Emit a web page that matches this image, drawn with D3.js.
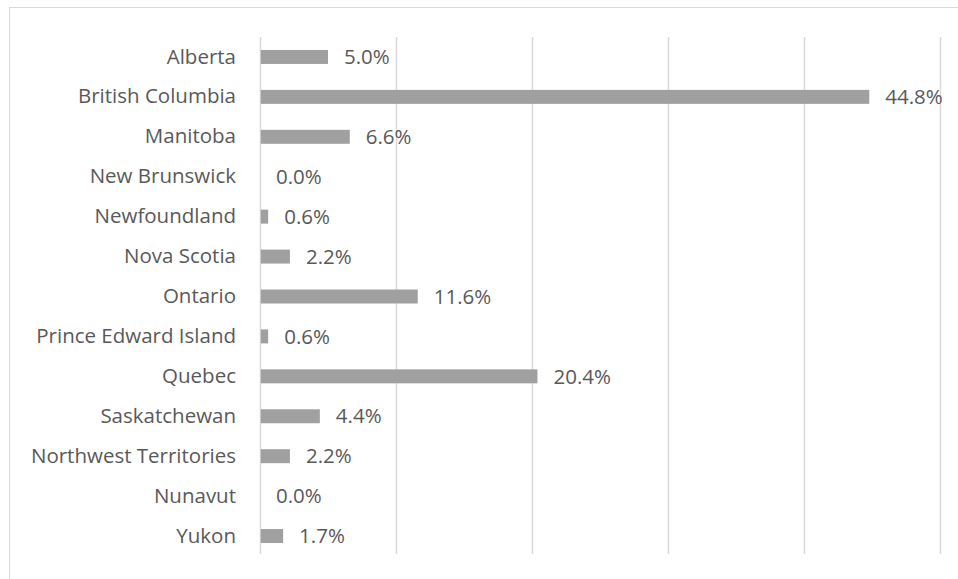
<!DOCTYPE html>
<html>
<head>
<meta charset="utf-8">
<script src="https://cdn.jsdelivr.net/npm/d3@7"></script>
<style>
  html, body { margin: 0; padding: 0; background: #fff; }
  svg { display: block; }
  text { font-family: "Open Sans", "Noto Sans", sans-serif; fill: #595959; }
</style>
</head>
<body>
<svg id="chart" width="958" height="579"></svg>
<script>
// Share of total by province / territory (%)
const provinces = [
  "Alberta", "British Columbia", "Manitoba", "New Brunswick", "Newfoundland",
  "Nova Scotia", "Ontario", "Prince Edward Island", "Quebec", "Saskatchewan",
  "Northwest Territories", "Nunavut", "Yukon"
];
const shares = [5.0, 44.8, 6.6, 0.0, 0.6, 2.2, 11.6, 0.6, 20.4, 4.4, 2.2, 0.0, 1.7];
const xTicks = [0, 10, 20, 30, 40, 50];

const svg = d3.select("#chart");
const FONT = "20.5px";

// chart-area frame
svg.append("rect")
  .attr("x", 9.5).attr("y", 7.5)
  .attr("width", 960).attr("height", 600)
  .attr("fill", "none").attr("stroke", "#d9d9d9").attr("stroke-width", 1);

const plot = { left: 260, right: 940, top: 37, bottom: 556 };

const x = d3.scaleLinear().domain([0, 50]).range([plot.left, plot.right]);
const y = d3.scaleBand().domain(provinces).range([plot.top, plot.bottom]).paddingInner(0.65).paddingOuter(0.325);

// vertical gridlines
const grid = svg.append("g")
  .attr("transform", `translate(0,${plot.bottom - 2})`)
  .call(d3.axisBottom(x).tickValues(xTicks).tickSize(-(plot.bottom - 2 - plot.top)).tickFormat(""));
grid.select(".domain").remove();
grid.selectAll(".tick line").attr("stroke", "#d9d9d9").attr("stroke-width", 1.5);

const data = provinces.map((p, i) => ({ name: p, value: shares[i] }));

// bars
svg.append("g").selectAll("rect")
  .data(data).join("rect")
  .attr("x", x(0) + 0.75)
  .attr("y", d => y(d.name))
  .attr("width", d => Math.max(0, x(d.value) - x(0) - 0.75))
  .attr("height", y.bandwidth())
  .attr("fill", "#a0a0a0");

// category labels
const yAxis = svg.append("g")
  .attr("transform", `translate(${plot.left},0)`)
  .call(d3.axisLeft(y).tickSize(0).tickPadding(24));
yAxis.select(".domain").remove();
yAxis.selectAll("text")
  .style("font-family", "\"Open Sans\", \"Noto Sans\", sans-serif")
  .style("font-size", FONT)
  .attr("fill", "#595959");

// value labels
svg.append("g").selectAll("text")
  .data(data).join("text")
  .attr("x", d => x(d.value) + 16)
  .attr("y", d => y(d.name) + y.bandwidth() / 2)
  .attr("dy", "0.35em")
  .style("font-size", FONT)
  .text(d => d.value.toFixed(1) + "%");
</script>
</body>
</html>
